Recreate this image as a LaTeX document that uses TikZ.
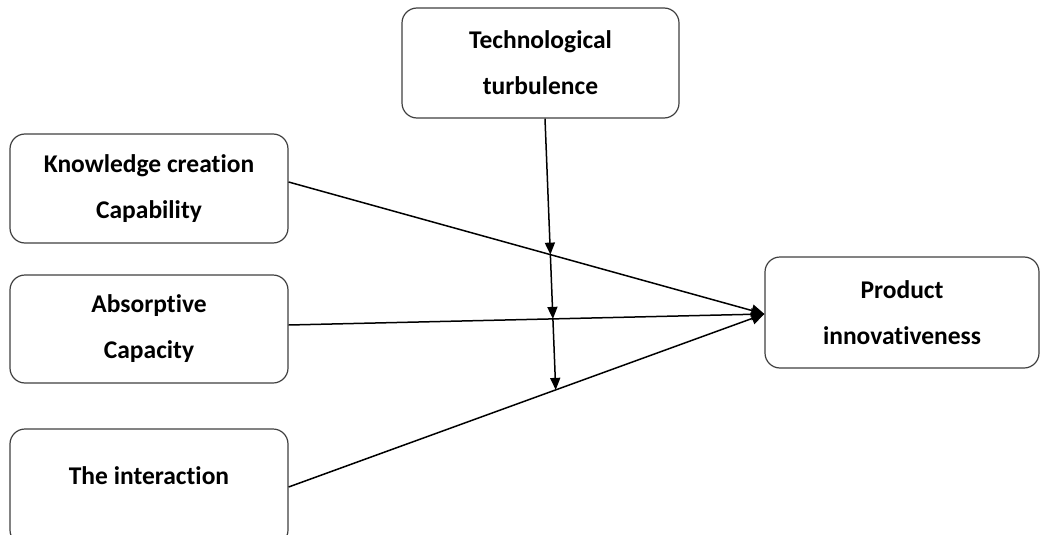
\documentclass[tikz,border=0pt]{standalone}
\usepackage{fontspec}
\setmainfont[Ligatures=NoCommon]{Carlito}
\usetikzlibrary{arrows.meta,intersections,calc}
\begin{document}
\begin{tikzpicture}[x=1pt,y=-1pt,
  box/.style={draw=black!75, line width=1.2pt, rounded corners=15pt, fill=white, align=center,
    font=\bfseries\fontsize{25.5}{46}\selectfont, inner sep=0pt},
  lbl/.style={align=center, font=\bfseries\fontsize{25.5}{46}\selectfont, inner sep=0pt},
  link/.style={line width=1.5pt, -{Triangle[length=13pt,width=12pt]}},
  modarrow/.style={line width=1.5pt, -{Triangle[length=12pt,width=10pt]}}]
\useasboundingbox (0,0) rectangle (1041,535);
\clip (0,0) rectangle (1041,535);
\node[box, minimum width=277pt, minimum height=110pt] (tech) at (540.5,63) {Technological\\turbulence};
\node[box, minimum width=278pt, minimum height=109pt] (know) at (149,188.5) {Knowledge creation\\Capability};
\node[box, minimum width=278pt, minimum height=108pt] (abs) at (149,329) {Absorptive\\Capacity};
\node[box, minimum width=278pt, minimum height=116pt] (int) at (149,487) {};
\node[lbl] (intt) at (149,476) {The interaction};
\node[box, minimum width=274pt, minimum height=111pt] (prod) at (902,312.5) {Product\\innovativeness};
\coordinate (tip) at ([yshift=-1.5pt]prod.west);
\draw[link, name path=l1] ([yshift=6.5pt]know.east) -- (tip);
\draw[link, name path=l2] ([yshift=4pt]abs.east) -- (tip);
\draw[link, name path=l3] (int.east) -- (tip);
\coordinate (ttop) at ([xshift=4.5pt]tech.south);
\coordinate (vbot) at (556.5,410);
\path[name path=vert] (ttop) -- (vbot);
\path[name intersections={of=vert and l1, by=m1}];
\path[name intersections={of=vert and l2, by=m2}];
\path[name intersections={of=vert and l3, by=m3}];
\draw[modarrow] (ttop) -- (m1);
\draw[modarrow] (m1) -- (m2);
\draw[modarrow] (m2) -- (m3);
\end{tikzpicture}
\end{document}
